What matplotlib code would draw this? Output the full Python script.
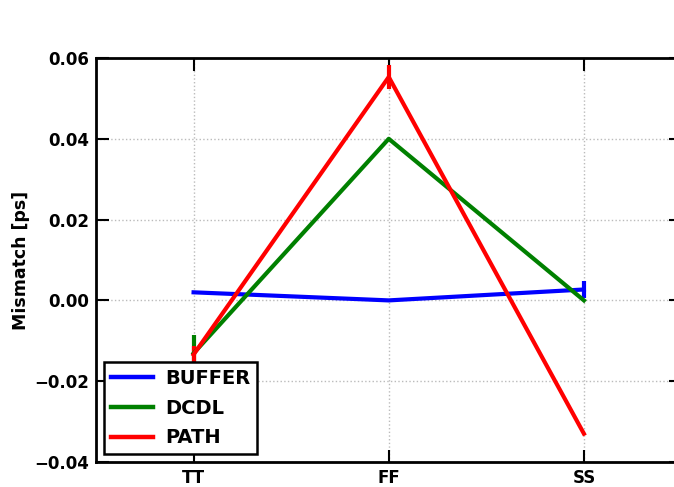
import matplotlib
matplotlib.use("Agg")
import matplotlib.pyplot as plt
from matplotlib.lines import Line2D
import numpy as np

categories = ["TT", "FF", "SS"]
buffer_vals = [0.002, 0.0, 0.0027]
buffer_err = [0.0, 0.0, 0.002]
dcdl_vals = [-0.0131, 0.040, 0.0]
dcdl_err = [0.0045, 0.0, 0.0]
path_vals = [-0.0134, 0.0553, -0.0330]
path_err = [0.002, 0.003, 0.0]
yticks = [-0.04, -0.02, 0.00, 0.02, 0.04, 0.06]

plt.rcParams['font.family'] = ['DejaVu Sans']
plt.rcParams['font.weight'] = 'bold'

fig = plt.figure(figsize=(6.74, 4.87), dpi=100)
ax = fig.add_axes([96/674, 25/487, (681.5-96)/674, 404/487])

x = np.arange(len(categories))
series = [("BUFFER", buffer_vals, buffer_err, "#0000ff"),
          ("DCDL", dcdl_vals, dcdl_err, "#008000"),
          ("PATH", path_vals, path_err, "#ff0000")]
handles = []
for name, vals, err, col in series:
    ax.errorbar(x, vals, yerr=err, color=col, lw=3, elinewidth=3, capsize=0)
    handles.append(Line2D([], [], color=col, lw=3.2, label=name))

ax.set_xlim(-0.5, 2.5)
ax.set_ylim(-0.04, 0.06)
ax.set_xticks(x)
ax.set_xticklabels(categories, fontsize=12, fontweight='bold')
ax.set_yticks(yticks)
ax.set_yticklabels([f"{v:.2f}".replace("-", "\u2212") for v in yticks], fontsize=12, fontweight='bold')
ax.tick_params(direction='in', length=9, width=1.5, top=True, right=True, pad=5)
ax.set_ylabel("Mismatch [ps]", fontsize=12.5, fontweight='bold', labelpad=3)
for s in ax.spines.values():
    s.set_linewidth(2)
ax.grid(True, linestyle=':', color='#bbbbbb', lw=1)
ax.set_axisbelow(True)

leg = ax.legend(handles=handles, loc='lower left', fontsize=14, frameon=True, fancybox=False,
                handlelength=2.2, handletextpad=0.6, borderpad=0.35,
                borderaxespad=0.4, labelspacing=0.55, framealpha=1)
leg.get_frame().set_edgecolor('black')
leg.get_frame().set_linewidth(1.8)
for t in leg.get_texts():
    t.set_fontweight('bold')

fig.savefig("out.png", dpi=100)
